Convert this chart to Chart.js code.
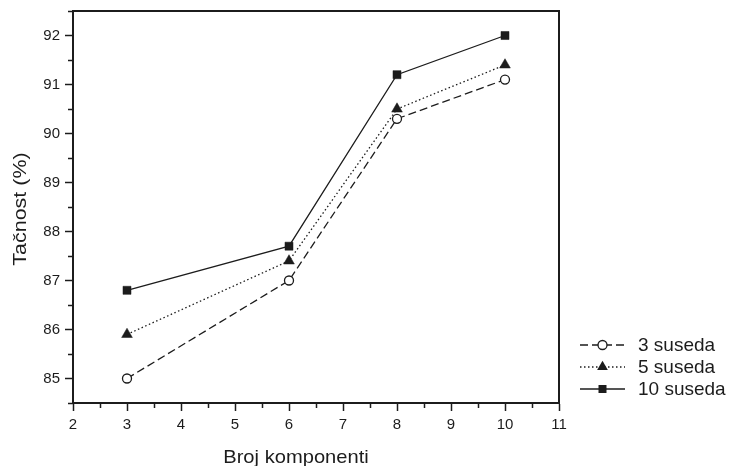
<!DOCTYPE html>
<html>
<head>
<meta charset="utf-8">
<script src="https://cdn.jsdelivr.net/npm/chart.js@4.4.1/dist/chart.umd.min.js"></script>
<style>
  html, body { margin: 0; padding: 0; background: #fff; }
</style>
</head>
<body>
<canvas id="chart" width="734" height="466"></canvas>
<script>
const komponente = [3, 6, 8, 10];
const suseda3 = [85.0, 87.0, 90.3, 91.1];
const suseda5 = [85.9, 87.4, 90.5, 91.4];
const suseda10 = [86.8, 87.7, 91.2, 92.0];
const seriesLabels = ["3 suseda", "5 suseda", "10 suseda"];
const xTitle = "Broj komponenti";
const yTitle = "Tačnost (%)";

const ink = "#1c1c1c";
const font = "'Liberation Sans', Arial, sans-serif";

const toPoints = (ys) => komponente.map((x, i) => ({ x: x, y: ys[i] }));
const isMajor = (v) => Math.abs(v - Math.round(v)) < 1e-6;

// legend sample styles, same order as seriesLabels
const legendStyles = [
  { dash: [8, 4], marker: "circle" },
  { dash: [1.5, 2.5], marker: "triangle" },
  { dash: [], marker: "rect" },
];

function drawMarker(ctx, kind, x, y) {
  ctx.setLineDash([]);
  ctx.lineWidth = 1.3;
  ctx.strokeStyle = ink;
  ctx.beginPath();
  if (kind === "circle") {
    ctx.arc(x, y, 4.5, 0, Math.PI * 2);
    ctx.fillStyle = "#fff";
    ctx.fill();
    ctx.stroke();
  } else if (kind === "triangle") {
    const r = 6.2;
    ctx.moveTo(x, y - r);
    ctx.lineTo(x + r * Math.sin(Math.PI / 3), y + r / 2);
    ctx.lineTo(x - r * Math.sin(Math.PI / 3), y + r / 2);
    ctx.closePath();
    ctx.fillStyle = ink;
    ctx.fill();
  } else {
    ctx.rect(x - 4, y - 4, 8, 8);
    ctx.fillStyle = ink;
    ctx.fill();
  }
}

const decor = {
  id: "decor",
  afterDraw(chart) {
    const { ctx, chartArea: a, scales } = chart;
    ctx.save();

    // frame around the plot
    ctx.strokeStyle = ink;
    ctx.lineWidth = 2;
    ctx.strokeRect(a.left, a.top, a.right - a.left, a.bottom - a.top);

    // short minor ticks
    ctx.lineWidth = 1.5;
    ctx.beginPath();
    scales.x.ticks.forEach((t) => {
      if (isMajor(t.value)) return;
      const px = Math.round(scales.x.getPixelForValue(t.value)) + 0.5;
      ctx.moveTo(px, a.bottom);
      ctx.lineTo(px, a.bottom + 5);
    });
    scales.y.ticks.forEach((t) => {
      if (isMajor(t.value)) return;
      const py = Math.round(scales.y.getPixelForValue(t.value)) + 0.5;
      ctx.moveTo(a.left, py);
      ctx.lineTo(a.left - 5, py);
    });
    ctx.stroke();

    // axis titles (the original font is a bit wider than Arial)
    ctx.fillStyle = ink;
    ctx.textAlign = "center";
    ctx.textBaseline = "alphabetic";

    ctx.save();
    ctx.translate(296, 463);
    ctx.scale(1.06, 1);
    ctx.font = "19px " + font;
    ctx.fillText(xTitle, 0, 0);
    ctx.restore();

    ctx.save();
    ctx.translate(26, 209);
    ctx.rotate(-Math.PI / 2);
    ctx.scale(1.13, 1);
    ctx.font = "19px " + font;
    ctx.fillText(yTitle, 0, 0);
    ctx.restore();

    // legend
    const rows = [345, 367, 389];
    seriesLabels.forEach((label, i) => {
      const y = rows[i];
      const st = legendStyles[i];
      ctx.strokeStyle = ink;
      ctx.lineWidth = 1.3;
      ctx.setLineDash(st.dash);
      ctx.beginPath();
      ctx.moveTo(580, y);
      ctx.lineTo(625, y);
      ctx.stroke();
      drawMarker(ctx, st.marker, 602.5, y);
      ctx.fillStyle = ink;
      ctx.font = "19px " + font;
      ctx.textAlign = "left";
      ctx.textBaseline = "middle";
      ctx.fillText(label, 638, y + 1);
    });

    ctx.restore();
  },
};

const lineSet = (label, ys, dash, style, radius, bg) => ({
  label: label,
  data: toPoints(ys),
  borderColor: ink,
  borderWidth: 1.3,
  borderDash: dash,
  pointStyle: style,
  pointRadius: radius,
  pointHoverRadius: radius,
  pointBackgroundColor: bg,
  pointBorderColor: ink,
  pointBorderWidth: style === "circle" ? 1.3 : 0.5,
  tension: 0,
  fill: false,
});

new Chart(document.getElementById("chart").getContext("2d"), {
  type: "line",
  data: {
    datasets: [
      lineSet(seriesLabels[0], suseda3, [8, 4], "circle", 4.5, "#fff"),
      lineSet(seriesLabels[1], suseda5, [1.5, 2.5], "triangle", 6.2, ink),
      lineSet(seriesLabels[2], suseda10, [], "rect", 5.7, ink),
    ],
  },
  options: {
    responsive: false,
    animation: false,
    devicePixelRatio: 1,
    layout: { padding: { left: 0, top: 11, right: 175, bottom: 0 } },
    plugins: {
      legend: { display: false },
      tooltip: { enabled: false },
    },
    scales: {
      x: {
        type: "linear",
        min: 2,
        max: 11,
        ticks: {
          stepSize: 0.5,
          autoSkip: false,
          maxRotation: 0,
          padding: 5,
          color: ink,
          font: { family: font, size: 15 },
          callback: (v) => (isMajor(v) ? String(Math.round(v)) : ""),
        },
        grid: {
          drawOnChartArea: false,
          tickLength: 8,
          tickWidth: 1.5,
          tickColor: (c) => (c.tick && isMajor(c.tick.value) ? ink : "rgba(0,0,0,0)"),
        },
        border: { color: ink, width: 2 },
        afterFit: (s) => { s.height = 63; },
      },
      y: {
        min: 84.5,
        max: 92.5,
        ticks: {
          stepSize: 0.5,
          autoSkip: false,
          padding: 5,
          color: ink,
          font: { family: font, size: 15, lineHeight: 0.8 },
          callback: (v) => (isMajor(v) ? String(Math.round(v)) : ""),
        },
        grid: {
          drawOnChartArea: false,
          tickLength: 8,
          tickWidth: 1.5,
          tickColor: (c) => (c.tick && isMajor(c.tick.value) ? ink : "rgba(0,0,0,0)"),
        },
        border: { color: ink, width: 2 },
        afterFit: (s) => { s.width = 73; },
      },
    },
  },
  plugins: [decor],
});
</script>
</body>
</html>
